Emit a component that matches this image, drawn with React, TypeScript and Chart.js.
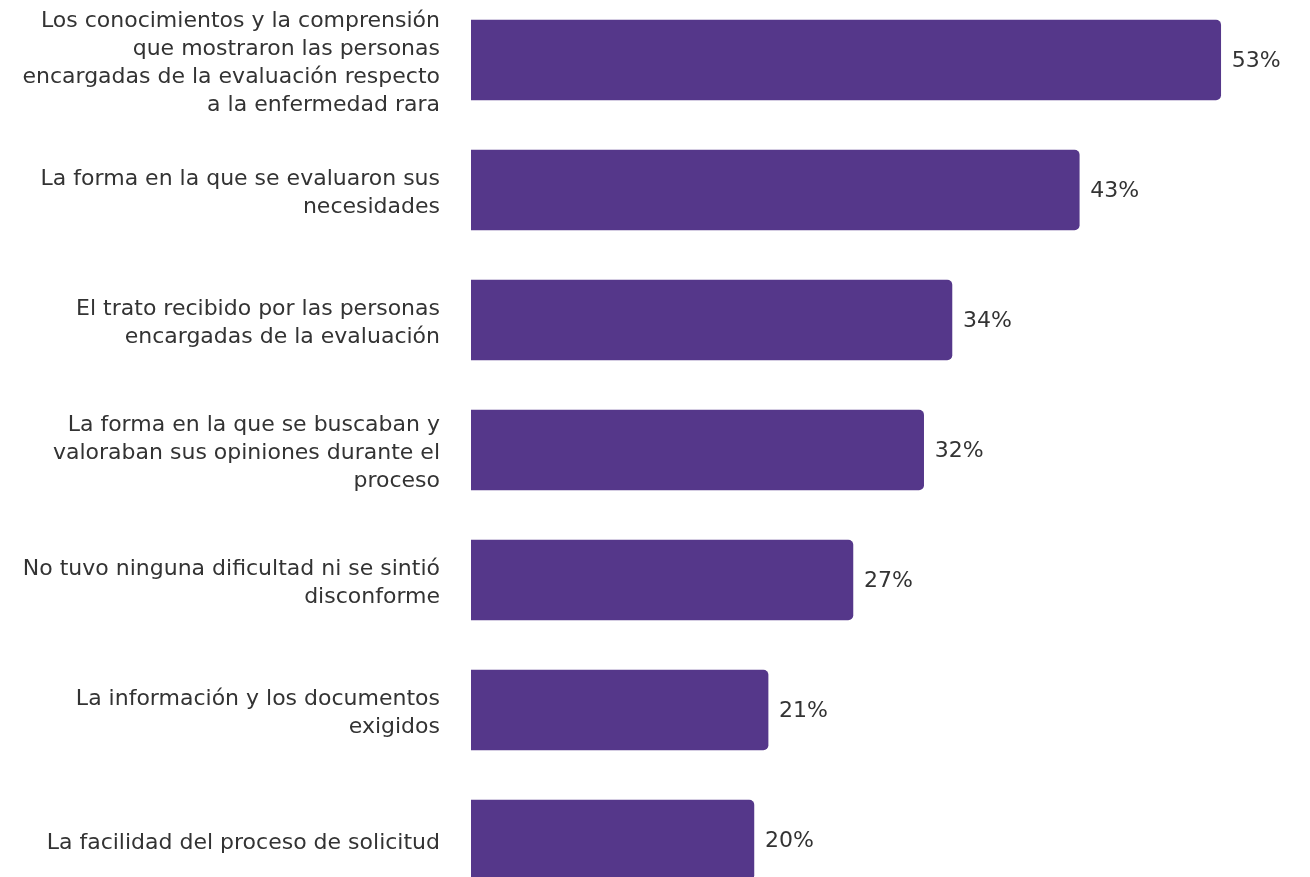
import React, { useEffect, useRef } from "react";
import { Chart, registerables } from "chart.js";

Chart.register(...registerables);

const categories: string[][] = [
  ["Los conocimientos y la comprensión", "que mostraron las personas", "encargadas de la evaluación respecto", "a la enfermedad rara"],
  ["La forma en la que se evaluaron sus", "necesidades"],
  ["El trato recibido por las personas", "encargadas de la evaluación"],
  ["La forma en la que se buscaban y", "valoraban sus opiniones durante el", "proceso"],
  ["No tuvo ninguna dificultad ni se sintió", "disconforme"],
  ["La información y los documentos", "exigidos"],
  ["La facilidad del proceso de solicitud"],
];

const values: number[] = [53, 43, 34, 32, 27, 21, 20];

const BAR_COLOR = "#55378a";
const TEXT_COLOR = "#333333";

const valueLabels = {
  id: "valueLabels",
  afterDatasetsDraw(chart: any) {
    const ctx = chart.ctx;
    const meta = chart.getDatasetMeta(0);
    ctx.save();
    ctx.font = '22px "DejaVu Sans"';
    ctx.fillStyle = TEXT_COLOR;
    ctx.textAlign = "left";
    ctx.textBaseline = "middle";
    meta.data.forEach((bar: any, i: number) => {
      ctx.fillText(values[i] + "%", bar.x + 11, bar.y + 1);
    });
    ctx.restore();
  },
};

export default function App() {
  const ref = useRef<HTMLCanvasElement | null>(null);
  useEffect(() => {
    if (!ref.current) return;
    const chart = new Chart(ref.current, {
      type: "bar",
      data: {
        labels: categories,
        datasets: [
          {
            data: values,
            backgroundColor: BAR_COLOR,
            borderRadius: 5,
            borderSkipped: "start",
            barThickness: 80,
          },
        ],
      },
      options: {
        indexAxis: "y",
        responsive: false,
        animation: false,
        maintainAspectRatio: false,
        layout: { padding: { top: 0, bottom: 0, left: 0, right: 61 } },
        plugins: { legend: { display: false }, tooltip: { enabled: false } },
        scales: {
          x: { display: false, min: 0, max: 55 },
          y: {
            grid: { display: false, drawTicks: false },
            border: { display: false },
            ticks: {
              color: TEXT_COLOR,
              padding: 31,
              labelOffset: 3,
              font: { family: '"DejaVu Sans"', size: 22, lineHeight: 1.27 },
            },
            afterFit(scale: any) {
              scale.width = 471;
              scale.paddingTop = 0;
              scale.paddingBottom = 0;
            },
          },
        },
      },
      plugins: [valueLabels],
    });
    return () => chart.destroy();
  }, []);
  return (
    <div style={{ position: "absolute", left: 0, top: -5, width: 1310, height: 910 }}>
      <canvas ref={ref} width={1310} height={910} style={{ width: 1310, height: 910, display: "block" }} />
    </div>
  );
}
